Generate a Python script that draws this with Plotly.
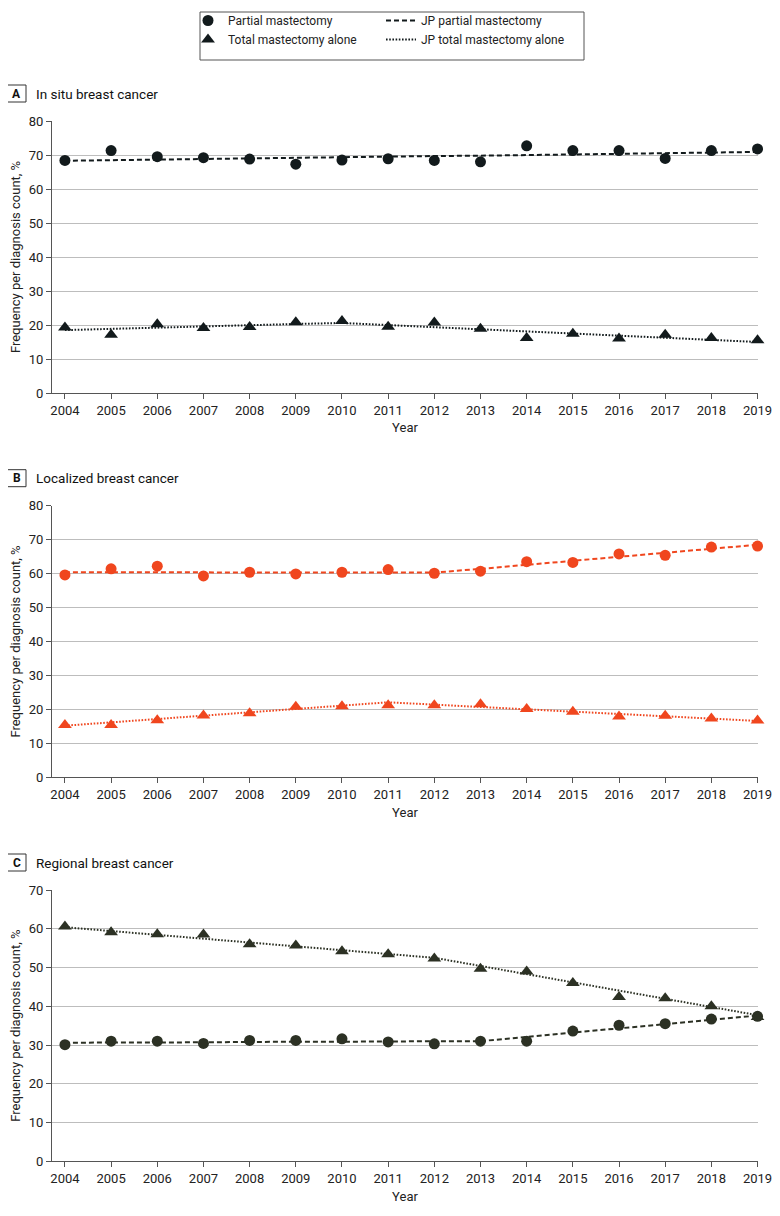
import plotly.graph_objects as go

years = list(range(2004, 2020))
x_ticks = years

# Panel A: In situ breast cancer
a_partial = [68.4, 71.3, 69.5, 69.2, 68.8, 67.3, 68.5, 68.9, 68.4, 68.0, 72.7, 71.3, 71.3, 69.0, 71.3, 71.8]
a_total = [19.3, 17.1, 20.2, 19.1, 19.4, 20.8, 21.2, 19.5, 20.7, 18.9, 16.2, 17.4, 16.0, 17.1, 16.2, 15.5]
a_jp_partial = [68.3, 68.5, 68.7, 68.9, 69.0, 69.2, 69.3, 69.5, 69.7, 69.8, 70.0, 70.2, 70.4, 70.5, 70.7, 70.9]
a_jp_total = [18.5, 18.9, 19.2, 19.6, 19.9, 20.3, 20.6, 20.0, 19.4, 18.7, 18.1, 17.5, 16.9, 16.3, 15.6, 15.0]

# Panel B: Localized breast cancer
b_partial = [59.6, 61.4, 62.2, 59.3, 60.4, 59.9, 60.4, 61.2, 60.1, 60.7, 63.5, 63.3, 65.8, 65.4, 67.8, 68.1]
b_total = [15.4, 15.4, 16.8, 18.2, 18.9, 20.8, 20.9, 21.2, 21.2, 21.5, 20.1, 19.3, 17.9, 18.1, 17.3, 16.7]
b_jp_partial = [60.4, 60.4, 60.4, 60.4, 60.4, 60.4, 60.3, 60.3, 60.3, 61.4, 62.6, 63.8, 65.0, 66.1, 67.3, 68.5]
b_jp_total = [15.2, 16.2, 17.2, 18.2, 19.1, 20.1, 21.1, 22.1, 21.4, 20.7, 20.0, 19.3, 18.7, 18.0, 17.3, 16.6]

# Panel C: Regional breast cancer
c_partial = [30.1, 31.0, 31.0, 30.4, 31.2, 31.2, 31.6, 30.8, 30.3, 31.0, 31.0, 33.6, 35.1, 35.5, 36.7, 37.4]
c_total = [60.6, 59.1, 58.6, 58.5, 56.0, 55.7, 54.2, 53.4, 52.3, 49.7, 49.0, 46.0, 42.4, 42.1, 40.0, 37.2]
c_jp_partial = [30.6, 30.6, 30.7, 30.7, 30.8, 30.8, 30.9, 30.9, 31.0, 31.0, 32.1, 33.2, 34.3, 35.4, 36.5, 37.6]
c_jp_total = [60.4, 59.4, 58.4, 57.4, 56.4, 55.5, 54.5, 53.5, 52.5, 50.4, 48.3, 46.2, 44.1, 42.0, 39.8, 37.7]

panels = [
    ("A", "In situ breast cancer", a_partial, a_total, a_jp_partial, a_jp_total, "#121a1c", 80),
    ("B", "Localized breast cancer", b_partial, b_total, b_jp_partial, b_jp_total, "#f0461e", 80),
    ("C", "Regional breast cancer", c_partial, c_total, c_jp_partial, c_jp_total, "#2c3124", 70),
]

WIN_W, WIN_H = 780, 1216
PAD = 8  # page body margin
W, H = WIN_W - 2 * PAD, WIN_H - 2 * PAD
FONT = "Roboto"
DASH = "5px,3px"
DOT = "1.6px,1.6px"


def px(xp):
    return (xp - PAD) / W


def py(yp):
    return 1 - (yp - PAD) / H


plot_left, plot_right = 52, 758
plot_px = [(121, 393), (505.7, 777.3), (890, 1161.3)]

fig = go.Figure()
layout_axes = {}
shapes = []
annotations = []

for i, (lab, title, part, tot, jpp, jpt, col, ymax) in enumerate(panels):
    n = "" if i == 0 else str(i + 1)
    xa, ya = "x" + n, "y" + n
    first = i == 0
    fig.add_trace(go.Scatter(x=years, y=jpp, mode="lines", xaxis=xa, yaxis=ya,
                             line=dict(color=col, width=2, dash=DASH),
                             name="JP partial mastectomy", legend="legend2",
                             showlegend=first, legendrank=1, hoverinfo="skip"))
    fig.add_trace(go.Scatter(x=years, y=jpt, mode="lines", xaxis=xa, yaxis=ya,
                             line=dict(color=col, width=2, dash=DOT),
                             name="JP total mastectomy alone", legend="legend2",
                             showlegend=first, legendrank=2, hoverinfo="skip"))
    fig.add_trace(go.Scatter(x=years, y=part, mode="markers", xaxis=xa, yaxis=ya,
                             marker=dict(symbol="circle", size=11, color=col),
                             name="Partial mastectomy", legend="legend",
                             showlegend=first, legendrank=1, cliponaxis=False))
    fig.add_trace(go.Scatter(x=years, y=tot, mode="markers", xaxis=xa, yaxis=ya,
                             marker=dict(symbol="triangle-up", size=12, color=col),
                             name="Total mastectomy alone", legend="legend",
                             showlegend=first, legendrank=2, cliponaxis=False))

    top, bot = plot_px[i]
    layout_axes["xaxis" + n] = dict(
        domain=[px(plot_left), px(plot_right)], range=[2003.72, 2019.01],
        tickmode="array", tickvals=x_ticks, ticktext=[str(v) for v in x_ticks],
        ticks="outside", ticklen=5, tickcolor="#555555", showline=True,
        linecolor="#555555", linewidth=1, showgrid=False, zeroline=False,
        automargin=False, ticklabeloverflow="allow",
        anchor=ya, title=dict(text="Year", standoff=6,
                              font=dict(family=FONT, size=13, color="#222")),
        tickfont=dict(family=FONT, size=13, color="#222"),
    )
    layout_axes["yaxis" + n] = dict(
        domain=[py(bot), py(top)], range=[0, ymax], dtick=10, ticks="outside", ticklen=5,
        tickcolor="#555555", showline=True, linecolor="#555555", linewidth=1,
        showgrid=True, gridcolor="#bdbdbd", gridwidth=1, zeroline=False,
        automargin=False,
        anchor=xa, title=dict(text="Frequency per diagnosis count, %", standoff=6,
                              font=dict(family=FONT, size=13, color="#222")),
        tickfont=dict(family=FONT, size=13, color="#222"),
    )
    ly = top - 27.5
    shapes.append(dict(type="rect", xref="paper", yref="paper",
                       x0=px(7), x1=px(26), y0=py(ly + 8.5), y1=py(ly - 8.5),
                       line=dict(color="#333333", width=1)))
    annotations.append(dict(text="<b>" + lab + "</b>", xref="paper", yref="paper",
                            x=px(16.5), y=py(ly), showarrow=False, xanchor="center",
                            yanchor="middle", font=dict(family=FONT, size=12, color="#111")))
    annotations.append(dict(text=title, xref="paper", yref="paper",
                            x=px(34), y=py(ly), showarrow=False, xanchor="left",
                            yanchor="middle", font=dict(family=FONT, size=13.5, color="#111")))

# legend frame
shapes.append(dict(type="rect", xref="paper", yref="paper",
                   x0=px(200), x1=px(584), y0=py(60), y1=py(12),
                   line=dict(color="#555555", width=1)))

fig.update_layout(
    width=W, height=H, margin=dict(l=0, r=0, t=0, b=0, autoexpand=False),
    plot_bgcolor="white", paper_bgcolor="white",
    font=dict(family=FONT, size=12, color="#222"),
    shapes=shapes, annotations=annotations,
    legend=dict(x=px(188), y=py(6), xanchor="left", yanchor="top",
                bgcolor="rgba(0,0,0,0)", font=dict(family=FONT, size=12, color="#222"),
                itemwidth=30, tracegroupgap=0),
    legend2=dict(x=px(381), y=py(6), xanchor="left", yanchor="top",
                 bgcolor="rgba(0,0,0,0)", font=dict(family=FONT, size=12, color="#222"),
                 itemwidth=30, tracegroupgap=0),
    **layout_axes,
)

fig.write_html("out.html")
